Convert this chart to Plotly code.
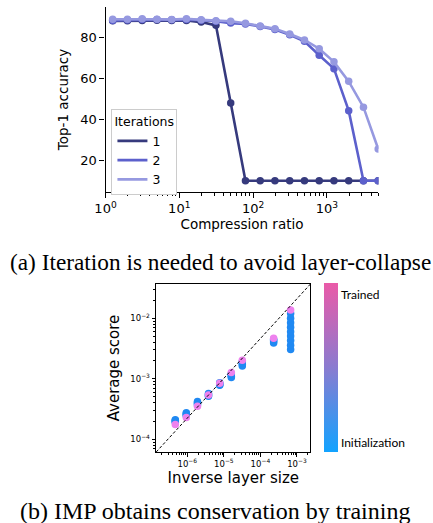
import plotly.graph_objects as go

# ---------------- data: top panel ----------------
compression = [1.25, 1.98, 3.14, 4.98, 7.89, 12.5, 19.8, 31.4, 49.8, 78.9,
               125, 198, 314, 498, 789, 1250, 1981, 3140, 4977]
acc_iter1 = [88.0, 88.1, 88.2, 88.3, 88.2, 88.2, 87.4, 85.8, 48.0, 10.0,
             10.0, 10.0, 10.0, 10.0, 10.0, 10.0, 10.0, 10.0, 10.0]
acc_iter2 = [88.2, 88.4, 88.6, 88.6, 88.5, 88.6, 88.3, 87.8, 86.9, 86.5,
             85.3, 83.8, 81.2, 78.0, 71.2, 64.7, 44.2, 10.0, 10.0]
acc_iter3 = [88.8, 88.8, 89.0, 88.8, 88.6, 89.0, 88.5, 88.1, 87.8, 86.8,
             85.5, 84.2, 81.6, 78.7, 74.4, 68.0, 58.5, 45.9, 25.5]
iter_names = ["1", "2", "3"]
iter_colors = ["#363a7d", "#5c60cc", "#9699e0"]

x_tickvals_top = [1, 10, 100, 1000]
x_ticktext_top = ["10<sup>0</sup>", "10<sup>1</sup>", "10<sup>2</sup>", "10<sup>3</sup>"]
y_tickvals_top = [20, 40, 60, 80]

# ---------------- data: bottom panel ----------------
inv_layer_size = [4.7e-7, 9.4e-7, 1.9e-6, 3.8e-6, 7.7e-6, 1.6e-5, 3.2e-5, 2.3e-4, 6.7e-4]
# average score per layer, from initialization (first) to trained (last)
scores = [
    [2.10e-4, 2.05e-4, 2.00e-4, 1.92e-4, 1.75e-4],
    [2.75e-4, 2.65e-4, 2.55e-4, 2.45e-4, 2.30e-4],
    [4.20e-4, 4.00e-4, 3.85e-4, 3.70e-4, 3.50e-4],
    [5.70e-4, 5.50e-4, 5.30e-4, 5.15e-4, 5.40e-4],
    [8.60e-4, 8.30e-4, 8.00e-4, 7.80e-4, 8.40e-4],
    [1.05e-3, 1.10e-3, 1.16e-3, 1.21e-3, 1.27e-3],
    [1.63e-3, 1.72e-3, 1.82e-3, 1.92e-3, 2.02e-3],
    [3.90e-3, 4.10e-3, 4.30e-3, 4.50e-3, 4.67e-3],
    [3.05e-3, 3.60e-3, 4.30e-3, 5.10e-3, 6.00e-3, 7.10e-3, 8.40e-3, 1.00e-2, 1.20e-2, 1.37e-2],
]
x_tickvals_bot = [1e-6, 1e-5, 1e-4, 1e-3]
x_ticktext_bot = ["10<sup>−6</sup>", "10<sup>−5</sup>", "10<sup>−4</sup>", "10<sup>−3</sup>"]
y_tickvals_bot = [1e-4, 1e-3, 1e-2]
y_ticktext_bot = ["10<sup>−4</sup>", "10<sup>−3</sup>", "10<sup>−2</sup>"]
cbar_labels = ["Initialization", "Trained"]

INIT_COLOR = "#2089f2"
TRAINED_COLOR = "#ee82ee"

fig = go.Figure()

# top panel lines
for name, ys, col in zip(iter_names, [acc_iter1, acc_iter2, acc_iter3], iter_colors):
    fig.add_trace(go.Scatter(x=compression, y=ys, mode="lines+markers",
                             line=dict(color=col, width=2.6),
                             marker=dict(color=col, size=7.5),
                             showlegend=False, xaxis="x", yaxis="y", cliponaxis=True))
# legend-only entries (lines only)
for name, col in zip(iter_names, iter_colors):
    fig.add_trace(go.Scatter(x=[None], y=[None], mode="lines", name=name,
                             line=dict(color=col, width=2.6),
                             showlegend=True, xaxis="x", yaxis="y"))

# bottom panel scatter
xs, ys, cs = [], [], []
for xv, sl in zip(inv_layer_size, scores):
    for i, s in enumerate(sl):
        xs.append(xv)
        ys.append(s)
        cs.append(TRAINED_COLOR if i == len(sl) - 1 else INIT_COLOR)
fig.add_trace(go.Scatter(x=xs, y=ys, mode="markers",
                         marker=dict(color=cs, size=7.5, line=dict(width=0)),
                         showlegend=False, xaxis="x2", yaxis="y2"))

# colorbar trace
fig.add_trace(go.Scatter(x=[None], y=[None], mode="markers", showlegend=False,
                         xaxis="x2", yaxis="y2",
                         marker=dict(color=[0], cmin=0, cmax=1,
                                     colorscale=[[0, "#12a3ff"], [0.5, "#8a7bd0"], [1, "#ea5aa8"]],
                                     showscale=True,
                                     colorbar=dict(x=0.7413, xanchor="left", y=0.1358, yanchor="bottom",
                                                   len=0.323, lenmode="fraction", thickness=14,
                                                   outlinewidth=0, ticks="", ticklen=0, xpad=0, ypad=0,
                                                   tickmode="array", tickvals=[0.057, 0.93],
                                                   ticktext=cbar_labels,
                                                   tickfont=dict(family="Lato", size=12, color="black")))))

axis_font = dict(family="DejaVu Sans", size=13, color="black")

fig.update_layout(
    width=433, height=523,
    margin=dict(l=0, r=0, t=0, b=0),
    paper_bgcolor="white", plot_bgcolor="white",
    font=axis_font,
    xaxis=dict(domain=[0.224, 0.8707], anchor="y", type="log", range=[0, 3.7],
               tickmode="array", tickvals=x_tickvals_top, ticktext=x_ticktext_top,
               showline=True, linecolor="black", linewidth=1.3, showgrid=False, zeroline=False,
               ticks="outside", ticklen=5, tickwidth=1, tickcolor="black",
               minor=dict(ticks="outside", ticklen=3, tickwidth=0.8, tickcolor="black",
                          dtick="D1", showgrid=False),
               tickfont=dict(family="DejaVu Sans", size=13),
               title=dict(text="Compression ratio", font=dict(family="DejaVu Sans", size=13.5), standoff=3)),
    yaxis=dict(domain=[0.6335, 0.986], anchor="x", range=[4.7, 94.6],
               tickmode="array", tickvals=y_tickvals_top,
               showline=True, linecolor="black", linewidth=1.3, showgrid=False, zeroline=False,
               ticks="outside", ticklen=5, tickwidth=1, tickcolor="black",
               tickfont=dict(family="DejaVu Sans", size=13),
               title=dict(text="Top-1 accuracy", font=dict(family="DejaVu Sans", size=13.5), standoff=8)),
    xaxis2=dict(domain=[0.3441, 0.7097], anchor="y2", type="log", range=[-6.85, -2.63],
                tickmode="array", tickvals=x_tickvals_bot, ticktext=x_ticktext_bot,
                showline=True, mirror=True, linecolor="black", linewidth=1.2,
                showgrid=False, zeroline=False,
                ticks="outside", ticklen=3.5, tickwidth=1, tickcolor="black",
                minor=dict(ticks="outside", ticklen=2, tickwidth=0.7, tickcolor="black",
                           dtick="D1", showgrid=False),
                tickfont=dict(family="DejaVu Sans", size=8.5),
                title=dict(text="Inverse layer size", font=dict(family="DejaVu Sans", size=15), standoff=2)),
    yaxis2=dict(domain=[0.1358, 0.457], anchor="x2", type="log", range=[-4.21, -1.433],
                tickmode="array", tickvals=y_tickvals_bot, ticktext=y_ticktext_bot,
                showline=True, mirror=True, linecolor="black", linewidth=1.2,
                showgrid=False, zeroline=False,
                ticks="outside", ticklen=3.5, tickwidth=1, tickcolor="black",
                minor=dict(ticks="outside", ticklen=2, tickwidth=0.7, tickcolor="black",
                           dtick="D1", showgrid=False),
                tickfont=dict(family="DejaVu Sans", size=8.5),
                title=dict(text="Average score", font=dict(family="DejaVu Sans", size=15), standoff=7)),
    legend=dict(x=0.238, y=0.7916, xanchor="left", yanchor="top",
                bgcolor="white", bordercolor="#cccccc", borderwidth=1,
                title=dict(text="Iterations", font=dict(family="DejaVu Sans", size=12.5)),
                font=dict(family="DejaVu Sans", size=12.5), itemwidth=30,
                tracegroupgap=0),
    shapes=[dict(type="line", xref="x2 domain", yref="y2 domain", x0=0, y0=0, x1=1, y1=1,
                 line=dict(color="black", width=1, dash="3px,2px"))],
    annotations=[
        dict(text="(a) Iteration is needed to avoid layer-collapse", xref="paper", yref="paper",
             x=0.497, y=0.499, xanchor="center", yanchor="middle", showarrow=False,
             font=dict(family="Liberation Serif", size=23.3, color="black")),
        dict(text="(b) IMP obtains conservation by training", xref="paper", yref="paper",
             x=0.483, y=0.023, xanchor="center", yanchor="middle", showarrow=False,
             font=dict(family="Liberation Serif", size=24, color="black")),
    ],
)

fig.write_html("out.html", config={"displayModeBar": False},
               post_script="document.body.style.margin='0';document.body.style.overflow='hidden';")
